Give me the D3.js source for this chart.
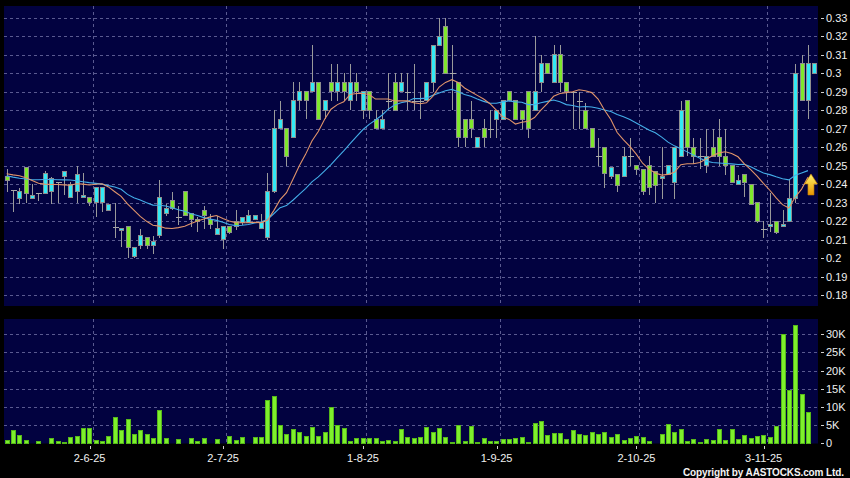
<!DOCTYPE html>
<html><head><meta charset="utf-8">
<script src="https://cdn.jsdelivr.net/npm/d3@7"></script>
<style>html,body{margin:0;padding:0;background:#000;}svg{display:block}</style>
</head><body><svg id="c" width="850" height="478"></svg>
<script>
// ---- data ----
const openP = [.244,.237,.232,.249,.232,.235,.235,.236,.241,.244,.233,.236,.233,.233,.230,.230,.226,.217,.215,.217,
 .201,.207,.211,.207,.212,.224,.231,.222,.236,.224,.221,.226,.221,.213,.210,.217,.220,.219,.219,.221,
 .216,.211,.236,.270,.270,.265,.285,.290,.290,.295,.280,.295,.290,.295,.285,.295,.280,.290,.275,.270,
 .285,.295,.290,.290,.285,.285,.285,.295,.315,.325,.300,.295,.275,.275,.260,.270,.270,.275,.275,.290,
 .285,.280,.290,.280,.295,.305,.295,.310,.295,.290,.285,.280,.270,.255,.260,.244,.245,.244,.255,.250,
 .248,.250,.247,.243,.245,.241,.255,.285,.260,.255,.250,.260,.265,.255,.250,.240,.245,.240,.230,.216,
 .217,.220,.217,.220,.232,.305,.285,.300];
const highP = [.248,.237,.238,.249,.240,.235,.247,.244,.241,.247,.241,.250,.246,.233,.238,.238,.229,.230,.216,.217,
 .206,.216,.211,.212,.242,.229,.236,.228,.236,.224,.222,.228,.224,.223,.217,.217,.226,.222,.226,.223,
 .224,.246,.280,.285,.270,.295,.295,.290,.315,.295,.285,.305,.305,.300,.305,.300,.290,.290,.280,.280,
 .300,.300,.300,.300,.305,.290,.295,.315,.330,.330,.315,.295,.275,.285,.265,.275,.280,.280,.285,.290,
 .285,.280,.290,.320,.310,.305,.315,.315,.295,.290,.290,.284,.270,.265,.260,.249,.245,.260,.265,.250,
 .248,.255,.247,.260,.250,.260,.285,.285,.265,.265,.270,.270,.275,.270,.250,.245,.245,.240,.230,.220,
 .235,.220,.226,.243,.305,.310,.315,.305];
const lowP = [.236,.225,.229,.230,.232,.231,.235,.229,.230,.234,.233,.230,.233,.228,.222,.225,.226,.211,.206,.200,
 .200,.205,.205,.202,.211,.223,.226,.218,.223,.217,.214,.216,.216,.213,.205,.213,.215,.218,.219,.221,
 .216,.210,.235,.270,.250,.265,.280,.275,.290,.275,.275,.285,.285,.285,.280,.285,.275,.275,.270,.270,
 .280,.280,.290,.280,.280,.275,.285,.290,.315,.300,.280,.260,.260,.265,.260,.260,.265,.265,.275,.285,
 .275,.270,.265,.280,.290,.300,.295,.290,.285,.270,.270,.270,.260,.250,.238,.243,.236,.244,.250,.245,
 .234,.234,.230,.232,.245,.232,.255,.255,.251,.248,.246,.255,.250,.245,.241,.240,.233,.229,.219,.211,
 .214,.213,.217,.220,.230,.285,.275,.300];
const closeP = [.242,.237,.236,.235,.234,.235,.246,.243,.241,.247,.240,.245,.234,.230,.238,.238,.229,.217,.216,.206,
 .206,.212,.207,.209,.233,.227,.227,.222,.223,.221,.220,.223,.218,.216,.217,.214,.217,.222,.223,.223,
 .219,.236,.270,.275,.255,.285,.290,.285,.295,.275,.285,.290,.295,.290,.295,.290,.290,.280,.270,.275,
 .285,.280,.295,.290,.285,.285,.295,.315,.320,.300,.300,.265,.265,.270,.265,.265,.270,.280,.285,.285,
 .275,.275,.270,.290,.305,.300,.310,.295,.290,.290,.285,.270,.260,.255,.246,.249,.239,.255,.255,.248,
 .236,.238,.239,.244,.250,.260,.280,.260,.255,.255,.255,.255,.255,.250,.241,.242,.241,.229,.220,.216,
 .218,.214,.218,.232,.300,.285,.305,.305];
// volume in thousands of shares (last day has no bar)
const volumeK = [0.9,3.4,2.2,0.7,0,0.5,0,1.4,0.5,0.3,1.5,2.0,4.0,4.0,0.7,0.4,2.0,7.0,3.6,6.6,
 2.3,3.4,2.4,1.3,8.9,1.2,0,1.1,0,1.2,0.5,1.2,0,1.1,0,2.0,0.9,1.6,0,1.6,
 1.7,11.9,13.0,4.9,2.3,3.7,3.1,2.0,4.3,2.0,3.0,9.8,4.8,4.1,0.5,1.4,1.4,1.3,1.2,0.4,
 0.9,0.4,3.7,1.6,1.2,1.5,4.4,3.0,4.2,1.6,0.2,5.0,0.5,4.7,0.1,1.4,0.6,0.5,1.0,1.0,
 1.3,1.6,0.3,5.4,6.0,2.2,2.6,2.8,1.0,3.6,2.4,2.2,3.0,2.4,2.9,1.7,2.3,0.9,1.2,2.0,
 1.5,0.5,0,2.4,5.3,3.1,3.7,0.5,1.1,0.2,1.1,0.7,3.9,0.9,3.7,1.1,2.2,1.4,1.9,2.2,
 1.6,4.7,30.0,14.5,32.4,13.5,8.5,0];
// moving-average values at the left edge (window starts before the visible data)
const ma10Head = [.2456,.2450,.2445,.2435,.2420,.2405,.2400,.2398,.2398];
const ma20Head = [.2445,.2438,.2432,.2428,.2424,.2424,.2425,.2425,.2424,.2423,.2422,.2418,.2413,.2408,.2404,.2400,.2392,.2385,.2372];
const priceTicks = [0.18,0.19,0.2,0.21,0.22,0.23,0.24,0.25,0.26,0.27,0.28,0.29,0.3,0.31,0.32,0.33];
const volTicks = [0,5,10,15,20,25,30];
const dateLabels = ["2-6-25","2-7-25","1-8-25","1-9-25","2-10-25","3-11-25"];
const dateIndex = [14,35,57,78,100,120];
const maLastIndex = 126;

// ---- layout ----
const svg = d3.select("#c");
const PX0 = 4, PX1 = 818, PY0 = 6, PY1 = 306, VY0 = 319, VY1 = 443.5;
const N = closeP.length;
const x = d3.scaleBand().domain(d3.range(N)).range([3.5, 817.5]);
const bw = x.bandwidth();
const cx = i => x(i) + bw / 2;
const yP = d3.scaleLinear().domain([0.18, 0.33]).range([295.1, 17.7]);
const yV = d3.scaleLinear().domain([0, 30]).range([443.3, 334.3]);

svg.append("rect").attr("width", 850).attr("height", 478).attr("fill", "#000");
svg.append("rect").attr("x", PX0).attr("y", PY0).attr("width", PX1 - PX0).attr("height", PY1 - PY0).attr("fill", "#020240");
svg.append("rect").attr("x", PX0).attr("y", VY0).attr("width", PX1 - PX0).attr("height", VY1 - VY0).attr("fill", "#020240");

const defs = svg.append("defs");
defs.append("clipPath").attr("id", "cp").append("rect").attr("x", PX0).attr("y", PY0).attr("width", PX1 - PX0).attr("height", PY1 - PY0);
const grad = defs.append("linearGradient").attr("id", "ag").attr("x1", 0).attr("x2", 0).attr("y1", 0).attr("y2", 1);
grad.append("stop").attr("offset", "0%").attr("stop-color", "#fff36b");
grad.append("stop").attr("offset", "100%").attr("stop-color", "#e89600");

const gridColor = "#5a5a90";
const grid = svg.append("g").attr("stroke", gridColor).attr("stroke-dasharray", "3,3").attr("shape-rendering", "crispEdges");
priceTicks.forEach(t => grid.append("line").attr("x1", PX0).attr("x2", PX1).attr("y1", Math.round(yP(t)) + 0.5).attr("y2", Math.round(yP(t)) + 0.5));
volTicks.filter(t => t > 0).forEach(t => grid.append("line").attr("x1", PX0).attr("x2", PX1).attr("y1", Math.round(yV(t)) + 0.5).attr("y2", Math.round(yV(t)) + 0.5));
dateIndex.forEach(k => {
  const gx = Math.round(x(k)) + 0.5;
  grid.append("line").attr("x1", gx).attr("x2", gx).attr("y1", PY0).attr("y2", PY1);
  grid.append("line").attr("x1", gx).attr("x2", gx).attr("y1", VY0).attr("y2", VY1);
});

// ---- candles ----
const data = d3.range(N).map(i => ({i, o: openP[i], h: highP[i], l: lowP[i], c: closeP[i], v: volumeK[i]}));
const cg = svg.append("g").attr("clip-path", "url(#cp)").attr("shape-rendering", "crispEdges");
cg.selectAll("line.w").data(data).join("line")
  .attr("x1", d => Math.round(cx(d.i)) + 0.5).attr("x2", d => Math.round(cx(d.i)) + 0.5)
  .attr("y1", d => yP(d.h)).attr("y2", d => yP(d.l))
  .attr("stroke", "#9a9a9a").attr("stroke-width", 1);
cg.selectAll("rect.b").data(data.filter(d => d.o !== d.c)).join("rect")
  .attr("x", d => Math.round(cx(d.i)) - 2 + 0.5)
  .attr("width", 4)
  .attr("y", d => yP(Math.max(d.o, d.c)))
  .attr("height", d => Math.max(1, Math.abs(yP(d.o) - yP(d.c))))
  .attr("fill", d => d.c > d.o ? "#33e9f4" : "#7fe82c")
  .attr("stroke", "#8e8e8e").attr("stroke-width", 1);
cg.selectAll("line.d").data(data.filter(d => d.o === d.c)).join("line")
  .attr("x1", d => Math.round(cx(d.i)) - 2.5).attr("x2", d => Math.round(cx(d.i)) + 3.5)
  .attr("y1", d => Math.round(yP(d.c)) + 0.5).attr("y2", d => Math.round(yP(d.c)) + 0.5)
  .attr("stroke", "#a8a8a8").attr("stroke-width", 1);

// ---- moving averages ----
function movingAvg(win, head) {
  const out = [];
  for (let i = 0; i <= maLastIndex; i++) {
    if (i < win - 1) out.push({i, v: head[i]});
    else out.push({i, v: d3.mean(closeP.slice(i - win + 1, i + 1))});
  }
  return out;
}
const line = d3.line().x(d => cx(d.i)).y(d => yP(d.v));
const mg = svg.append("g").attr("clip-path", "url(#cp)").attr("fill", "none");
mg.append("path").attr("d", line(movingAvg(20, ma20Head))).attr("stroke", "#44aee8").attr("stroke-width", 1.1);
mg.append("path").attr("d", line(movingAvg(10, ma10Head))).attr("stroke", "#e0946a").attr("stroke-width", 1.1);

// ---- arrow marker ----
const ax = cx(maLastIndex) + 3, ay = yP(0.2455);
svg.append("path")
  .attr("d", `M${ax},${ay} L${ax + 6.5},${ay + 10} L${ax + 3},${ay + 10} L${ax + 3},${ay + 21} L${ax - 3},${ay + 21} L${ax - 3},${ay + 10} L${ax - 6.5},${ay + 10} Z`)
  .attr("fill", "url(#ag)").attr("stroke", "#c98000").attr("stroke-width", 0.6);

// ---- volume ----
svg.append("g").attr("shape-rendering", "crispEdges").selectAll("rect").data(data.filter(d => d.v > 0)).join("rect")
  .attr("x", d => Math.round(cx(d.i)) - 2 + 0.5)
  .attr("width", 4)
  .attr("y", d => yV(d.v))
  .attr("height", d => Math.max(0.5, yV(0) - yV(d.v)))
  .attr("fill", "#7ef02c").attr("stroke", "#56b81a").attr("stroke-width", 1);

// ---- right axes ----
const fmtP = v => String(+v.toFixed(2));
const ax1 = svg.append("g").attr("font-family", "'Liberation Sans', Arial, sans-serif").attr("font-size", 11).attr("fill", "#f0f0f0");
priceTicks.forEach(t => {
  const yy = yP(t);
  ax1.append("line").attr("x1", 821).attr("x2", 824).attr("y1", Math.round(yy) + 0.5).attr("y2", Math.round(yy) + 0.5).attr("stroke", "#d0d0d0");
  ax1.append("text").attr("x", 826).attr("y", yy).attr("dy", "0.36em").text(fmtP(t));
});
volTicks.forEach(t => {
  const yy = yV(t);
  ax1.append("line").attr("x1", 821).attr("x2", 824).attr("y1", Math.round(yy) + 0.5).attr("y2", Math.round(yy) + 0.5).attr("stroke", "#d0d0d0");
  ax1.append("text").attr("x", 826).attr("y", yy).attr("dy", "0.36em").text(t === 0 ? "0" : t + "K");
});

// ---- date axis ----
dateIndex.forEach((k, j) => {
  const lx = x(k) - 3;
  svg.append("line").attr("x1", Math.round(lx) + 0.5).attr("x2", Math.round(lx) + 0.5).attr("y1", 446).attr("y2", 449).attr("stroke", "#d0d0d0");
  svg.append("text").attr("x", lx).attr("y", 461.5).attr("text-anchor", "middle")
    .attr("font-family", "'Liberation Sans', Arial, sans-serif").attr("font-size", 11).attr("fill", "#f0f0f0")
    .text(dateLabels[j]);
});

svg.append("text").attr("x", 683).attr("y", 475.5).attr("textLength", 161).attr("lengthAdjust", "spacing")
  .attr("font-family", "'Liberation Sans', Arial, sans-serif").attr("font-size", 10).attr("font-weight", "bold").attr("fill", "#f4f4f4")
  .text("Copyright by AASTOCKS.com Ltd.");
</script>
</body></html>
